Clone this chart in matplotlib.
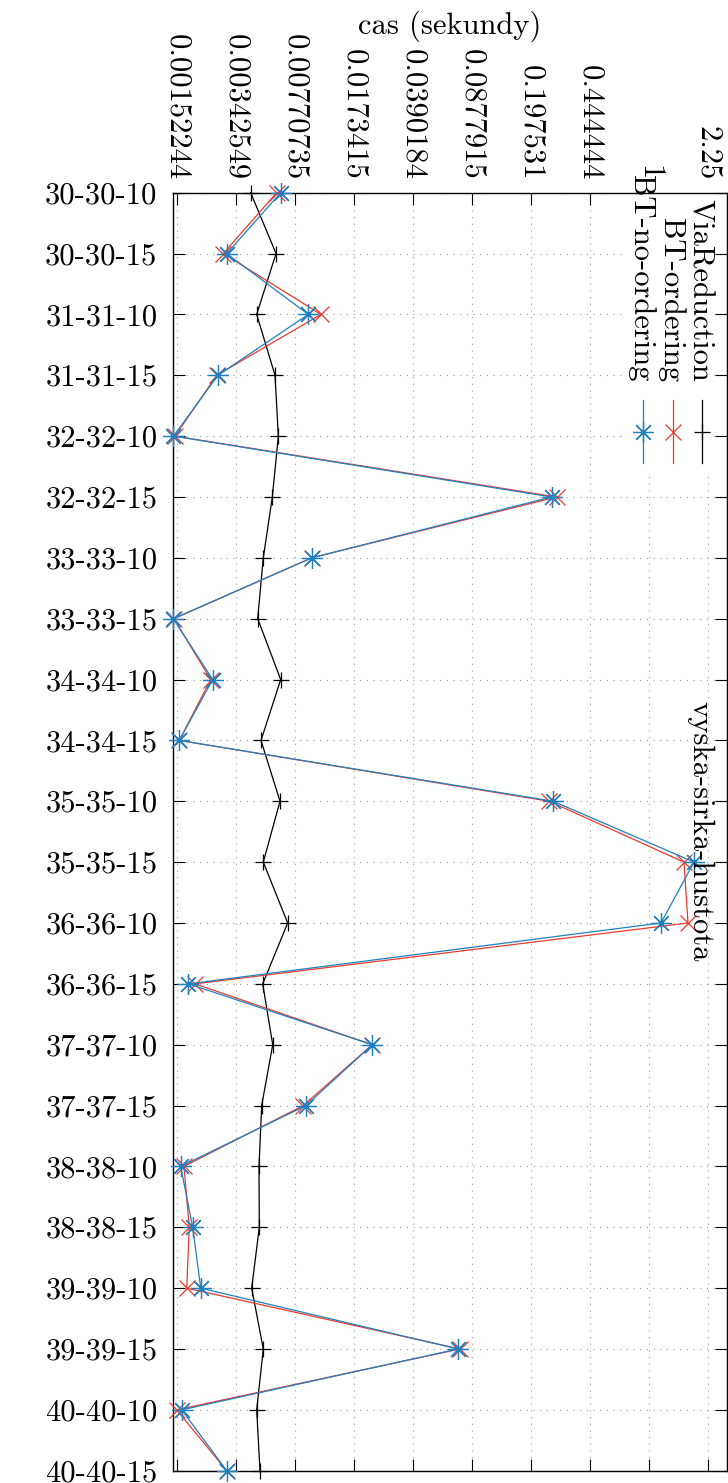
import matplotlib
matplotlib.use("Agg")
import matplotlib.pyplot as plt
from matplotlib.lines import Line2D
from matplotlib.patches import Rectangle
from matplotlib.ticker import NullLocator

# vyska-sirka-hustota instances
categories = ["30-30-10", "30-30-15", "31-31-10", "31-31-15", "32-32-10", "32-32-15",
              "33-33-10", "33-33-15", "34-34-10", "34-34-15", "35-35-10", "35-35-15",
              "36-36-10", "36-36-15", "37-37-10", "37-37-15", "38-38-10", "38-38-15",
              "39-39-10", "39-39-15", "40-40-10", "40-40-15"]

# cas (sekundy)
via_reduction = [0.004209, 0.005963, 0.004572, 0.005882, 0.006155, 0.005667,
                 0.005006, 0.004635, 0.006359, 0.004851, 0.006298, 0.005006,
                 0.007000, 0.004965, 0.005698, 0.004897, 0.004719, 0.004738,
                 0.004268, 0.005006, 0.004572, 0.004784]
bt_ordering = [0.006020, 0.002888, 0.01106, 0.002638, 0.001487, 0.2824,
               0.009736, 0.001467, 0.002429, 0.001578, 0.2551, 1.624,
               1.716, 0.001958, 0.02239, 0.008676, 0.001683, 0.001810,
               0.001747, 0.07475, 0.001522, 0.003027]
bt_no_ordering = [0.006359, 0.003027, 0.009292, 0.002686, 0.001457, 0.2636,
                  0.009736, 0.001453, 0.002497, 0.001578, 0.2695, 1.864,
                  1.184, 0.001786, 0.02239, 0.009004, 0.001608, 0.001897,
                  0.002118, 0.07272, 0.001631, 0.003027]

tick_values = [0.00152244, 0.00342549, 0.00770735, 0.0173415, 0.0390184,
               0.0877915, 0.197531, 0.444444, 1, 2.25]
tick_labels = ["0.00152244", "0.00342549", "0.00770735", "0.0173415", "0.0390184",
               "0.0877915", "0.197531", "0.444444", "1", "2.25"]

series_names = ["ViaReduction", "BT-ordering", "BT-no-ordering"]

plt.rcParams['font.family'] = 'cmr10'
plt.rcParams['font.size'] = 22
plt.rcParams['axes.unicode_minus'] = False

RED = '#ec3a2a'
BLUE = '#2080c0'
W, H = 728, 1483


def fx(x):
    return x / W


def fy(y):
    return 1 - y / H


fig = plt.figure(figsize=(W / 100, H / 100), dpi=100)
ax = fig.add_axes([fx(172.7), fy(1470.7), (727.3 - 172.7) / W, (1470.7 - 192.7) / H])

ys = list(range(len(categories)))
ax.plot(via_reduction, ys, color='black', lw=0.9, marker='+', ms=12, mew=0.9,
        clip_on=False, zorder=3)
ax.plot(bt_ordering, ys, color=RED, lw=0.9, marker='x', ms=12, mew=0.9,
        clip_on=False, zorder=4)
ax.plot(bt_no_ordering, ys, color=BLUE, lw=0.9, marker=(8, 2, 0), ms=15, mew=0.9,
        clip_on=False, zorder=5)

ax.set_xscale('log')
ax.set_xlim(0.0014411, 2.946)
ax.set_ylim(len(categories) - 1, 0)

ax.xaxis.tick_top()
ax.set_xticks(tick_values)
ax.set_xticklabels(tick_labels, rotation=-90, ha='center', va='bottom')
ax.xaxis.set_minor_locator(NullLocator())
ax.tick_params(axis='x', top=True, bottom=True, labeltop=True, labelbottom=False,
               direction='in', length=8.5, width=0.8, pad=9)

ax.set_yticks(ys)
ax.set_yticklabels(categories)
ax.tick_params(axis='y', left=True, right=True, direction='in', length=8.5,
               width=0.8, pad=11)

ax.grid(True, color='#a0a0a0', linestyle=(0, (1, 5)), lw=0.8)
for s in ax.spines.values():
    s.set_linewidth(1.0)

# white key box hiding the grid
ax.add_patch(Rectangle((fx(625), fy(475)), fx(714) - fx(625), fy(193) - fy(475),
                       transform=fig.transFigure, facecolor='white',
                       edgecolor='none', zorder=1.7))

# key (rotated like the rest of the chart)
key_x = [701.7, 672.7, 643.3]
key_style = [('black', '+', 12), (RED, 'x', 12), (BLUE, (8, 2, 0), 15)]
for name, x, (c, m, ms) in zip(series_names, key_x, key_style):
    fig.text(fx(x - 2), fy(381.7), name, rotation=-90, ha='center', va='bottom')
    fig.add_artist(Line2D([fx(x), fx(x)], [fy(400), fy(463)], color=c, lw=0.9))
    fig.add_artist(Line2D([fx(x)], [fy(432)], color=c, marker=m, ms=ms, mew=0.9))

fig.text(fx(450), fy(26), "cas (sekundy)", ha='center', va='center')
fig.text(fx(700), fy(831.7), "vyska-sirka-hustota", rotation=-90,
         ha='center', va='center')

fig.savefig("out.png", dpi=100)
